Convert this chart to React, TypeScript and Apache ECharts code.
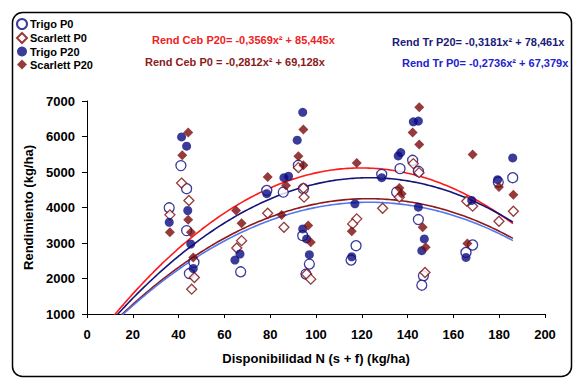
import React, { useEffect, useRef } from "react";
import * as echarts from "echarts";

// Scatter data [N availability (kg/ha), yield (kg/ha)]
const trigoP0: number[][] = [
  [41, 5180], [43.5, 4529], [35.9, 3991], [43.5, 3349], [46.7, 2452], [44.7, 2140],
  [78.5, 4480], [67.1, 2189],
  [92.3, 5188], [85.7, 4433], [94.5, 4529], [94.2, 3207], [97.1, 2406], [95.6, 2124],
  [128.7, 4934], [117.5, 2924], [115.3, 2520],
  [142.2, 5330], [136.7, 5095], [144.7, 5019], [135.2, 4433], [144.7, 3660], [146.9, 2075], [146.2, 1812],
  [179.6, 4716], [185.9, 4840], [168.4, 2944], [165.5, 2735],
];
const scarlettP0: number[][] = [
  [41.3, 4688], [44.5, 4198], [36.2, 3793], [46.9, 2027], [45.7, 1699],
  [78.9, 3838], [67.5, 3066], [65.4, 2859],
  [92.3, 5123], [94.5, 4546], [94.8, 4291], [86, 3442], [95.9, 2124], [97.7, 1982],
  [129.1, 3980], [117.8, 3680], [116, 3538],
  [142.5, 5236], [145, 4982], [136.4, 4291], [147.6, 2169],
  [186.2, 3895], [179.9, 3612], [165.8, 4178], [168.4, 4037],
];
const trigoP20: number[][] = [
  [41.3, 5989], [43.5, 5726], [44, 3915], [35.9, 3584], [45.3, 2972], [46.4, 2282],
  [78.5, 4390], [66.8, 2690], [64.6, 2520],
  [94.2, 6680], [91.8, 5896], [86, 4840], [88, 4880], [94.2, 3397], [95.9, 3114], [97.1, 2670],
  [128.7, 4840], [117, 4104], [115.6, 2613],
  [142.5, 6414], [144.7, 6434], [135.9, 5452], [137, 5548], [144.7, 4008], [147.3, 3114], [146.2, 2783],
  [185.9, 5395], [179.3, 4784], [168, 4198], [165.5, 2593],
];
const scarlettP20: number[][] = [
  [44.2, 6114], [41.6, 5471], [44.2, 3652], [36.2, 3301], [45.4, 3301], [46.4, 2593],
  [78.9, 4857], [65.1, 3915], [67.5, 3556],
  [94.5, 6199], [92.3, 5443], [94.5, 5188], [86.9, 4622], [85, 3790], [96.6, 3490], [97.7, 3018],
  [117.8, 5254], [115.6, 3330],
  [145.1, 6821], [142.2, 6114], [145.1, 5774], [136.4, 4546], [137.4, 4387], [146.6, 3442], [147.9, 2877],
  [168.4, 5491], [179.9, 4574], [186.2, 4359], [166.1, 2989],
];

// Trendlines printed on the chart: y = a x^2 + b x
const trendNames = ["Rend Ceb P20", "Rend Tr P20", "Rend Ceb P0", "Rend Tr P0"];
const trendA = [-0.3569, -0.3181, -0.2812, -0.2736];
const trendB = [85.445, 78.461, 69.128, 67.379];
const trendColors = ["#ff1a1a", "#14147a", "#8b1a1a", "#5577ee"];
const trendXStart = 0;
const trendXEnd = 186;

const xTicks = [0, 20, 40, 60, 80, 100, 120, 140, 160, 180, 200];
const yTicks = [1000, 2000, 3000, 4000, 5000, 6000, 7000];

const FONT = "'Liberation Sans', Arial, sans-serif";

function trendPoints(a: number, b: number): number[][] {
  const pts: number[][] = [];
  for (let x = trendXStart; x <= trendXEnd; x += 1) pts.push([x, a * x * x + b * x]);
  return pts;
}

export default function App() {
  const ref = useRef<HTMLDivElement>(null);
  useEffect(() => {
    if (!ref.current) return;
    const chart = echarts.init(ref.current, undefined, { renderer: "svg" });
    const navy = "#0a0a80";
    const maroon = "#7a0a0a";
    const lines = trendNames.map((n, i) => ({
      name: n,
      type: "line",
      data: trendPoints(trendA[i], trendB[i]),
      showSymbol: false,
      symbol: "none",
      clip: true,
      smooth: false,
      lineStyle: { color: trendColors[i], width: 1.6 },
      z: 1,
      silent: true,
    }));
    const eq = (text: string, left: number, top: number, color: string) => ({
      type: "text",
      left,
      top,
      style: { text, fill: color, font: `bold 11px ${FONT}` },
    });
    chart.setOption({
      animation: false,
      backgroundColor: "#fff",
      textStyle: { fontFamily: FONT },
      grid: { left: 87, right: 33, top: 101, bottom: 71, containLabel: false },
      legend: {
        orient: "vertical",
        left: 11,
        top: 13,
        itemWidth: 10,
        itemHeight: 10,
        itemGap: 2,
        data: ["Trigo P0", "Scarlett P0", "Trigo P20", "Scarlett P20"],
        textStyle: { fontSize: 11, fontWeight: "bold", color: "#000", fontFamily: FONT, padding: [0, 0, 0, -2] },
      },
      xAxis: {
        type: "value",
        min: xTicks[0],
        max: xTicks[xTicks.length - 1],
        interval: 20,
        name: "Disponibilidad N (s + f) (kg/ha)",
        nameLocation: "middle",
        nameGap: 38,
        nameTextStyle: { fontSize: 13, fontWeight: "bold", color: "#000", fontFamily: FONT },
        axisLine: { lineStyle: { color: "#000", width: 1 } },
        axisTick: { show: true, length: 4, lineStyle: { color: "#000" } },
        axisLabel: { fontSize: 13, fontWeight: "bold", color: "#000", margin: 14, fontFamily: FONT },
        splitLine: { show: false },
      },
      yAxis: {
        type: "value",
        min: yTicks[0],
        max: yTicks[yTicks.length - 1],
        interval: 1000,
        name: "Rendimiento (kg/ha)",
        nameLocation: "middle",
        nameGap: 47,
        nameTextStyle: { fontSize: 13, fontWeight: "bold", color: "#000", fontFamily: FONT },
        axisLine: { show: true, lineStyle: { color: "#000", width: 1 } },
        axisTick: { show: true, length: 5, lineStyle: { color: "#000" } },
        axisLabel: {
          fontSize: 13,
          fontWeight: "bold",
          color: "#000",
          margin: 12,
          fontFamily: FONT,
          formatter: (v: number) => String(v),
        },
        splitLine: { show: false },
      },
      graphic: [
        {
          type: "rect",
          left: 10,
          top: 10,
          shape: { width: 559, height: 364, r: 10 },
          style: { fill: "none", stroke: "#000", lineWidth: 1.5 },
          z: -1,
        },
        eq("Rend Ceb P20= -0,3569x² + 85,445x", 152, 34, "#ee2222"),
        eq("Rend Ceb P0 = -0,2812x² + 69,128x", 145, 56, "#8b1a1a"),
        eq("Rend Tr P20= -0,3181x² + 78,461x", 392, 36, "#1a1a7a"),
        eq("Rend Tr P0= -0,2736x² + 67,379x", 402, 57, "#2222cc"),
      ],
      series: [
        ...lines,
        {
          name: "Trigo P0",
          type: "scatter",
          data: trigoP0,
          symbol: "circle",
          symbolSize: 10,
          itemStyle: { color: "#fff", borderColor: navy, borderWidth: 1.3 },
          z: 3,
        },
        {
          name: "Scarlett P0",
          type: "scatter",
          data: scarlettP0,
          symbol: "diamond",
          symbolSize: 10,
          itemStyle: { color: "#fff", borderColor: maroon, borderWidth: 1.3 },
          z: 3,
        },
        {
          name: "Trigo P20",
          type: "scatter",
          data: trigoP20,
          symbol: "circle",
          symbolSize: 9,
          itemStyle: { color: navy },
          z: 3,
        },
        {
          name: "Scarlett P20",
          type: "scatter",
          data: scarlettP20,
          symbol: "diamond",
          symbolSize: 10,
          itemStyle: { color: maroon },
          z: 3,
        },
      ],
    });
    return () => chart.dispose();
  }, []);
  return (
    <div
      ref={ref}
      style={{ position: "absolute", left: 0, top: 0, width: 578, height: 385 }}
    />
  );
}
